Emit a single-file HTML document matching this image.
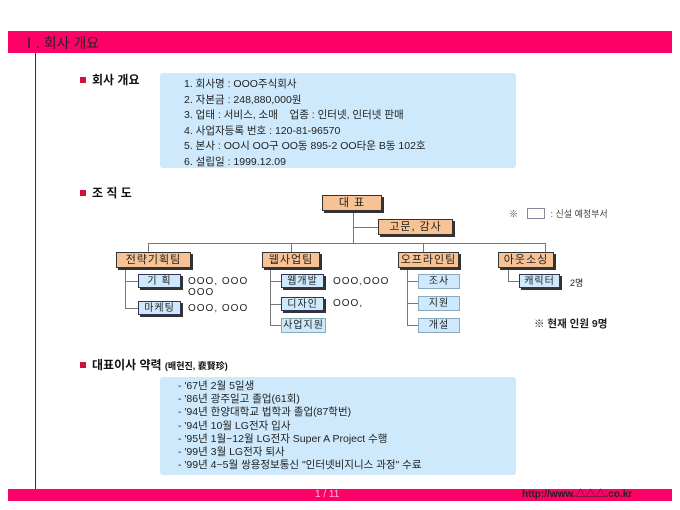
<!DOCTYPE html>
<html><head><meta charset="utf-8"><style>
*{margin:0;padding:0;box-sizing:border-box}
body{width:680px;height:510px;background:#fff;position:relative;overflow:hidden;font-family:"Liberation Sans","Noto Sans CJK KR","NanumGothic",sans-serif;color:#222}
.a{position:absolute}
.bar{background:#ff0066}
.h{font-size:12px;font-weight:bold;color:#111}
.sq{display:inline-block;width:6px;height:6px;background:#d0103a;margin-right:6px;vertical-align:1px}
.blue{background:#cde9fb;border-radius:3px}
.list{font-size:10.5px;line-height:15.5px;color:#222}
.ln{background:#777}
.org{background:#f8c394;border:1px solid #333;box-shadow:2px 2px 0 #333;font-size:11px;text-align:center;line-height:14px;letter-spacing:1px}
.sub{background:#cde9fb;border:1px solid #335;box-shadow:2px 2px 0 #333;font-size:10px;text-align:center;line-height:13px;letter-spacing:1px}
.new{background:#cde9fb;border:1px solid #8ab;font-size:10px;text-align:center;line-height:13px;letter-spacing:1px}
.t{font-size:10px;letter-spacing:1px}
</style></head><body>
<div class="a bar" style="left:8px;top:31px;width:664px;height:22px"></div>
<div class="a" style="left:22px;top:33px;font-size:14px;color:#222">Ⅰ. 회사 개요</div>
<div class="a" style="left:35px;top:53px;width:1px;height:437px;background:#333"></div>

<div class="a h" style="left:80px;top:71px"><span class="sq"></span>회사 개요</div>
<div class="a blue" style="left:160px;top:73px;width:356px;height:95px"></div>
<div class="a list" style="left:184px;top:77px">1. 회사명 : OOO주식회사<br>2. 자본금 : 248,880,000원<br>3. 업태 : 서비스, 소매 &nbsp;&nbsp;&nbsp;업종 : 인터넷, 인터넷 판매<br>4. 사업자등록 번호 : 120-81-96570<br>5. 본사 : OO시 OO구 OO동 895-2 OO타운 B동 102호<br>6. 설립일 : 1999.12.09</div>

<div class="a h" style="left:80px;top:184px"><span class="sq"></span>조 직 도</div>

<div class="a ln" style="left:353px;top:211px;width:1px;height:33px"></div>
<div class="a ln" style="left:353px;top:227px;width:25px;height:1px"></div>
<div class="a ln" style="left:148px;top:243px;width:398px;height:1px"></div>
<div class="a ln" style="left:148px;top:243px;width:1px;height:10px"></div>
<div class="a ln" style="left:291px;top:243px;width:1px;height:10px"></div>
<div class="a ln" style="left:423px;top:243px;width:1px;height:10px"></div>
<div class="a ln" style="left:545px;top:243px;width:1px;height:10px"></div>
<div class="a ln" style="left:125px;top:267px;width:1px;height:42px"></div>
<div class="a ln" style="left:125px;top:281px;width:13px;height:1px"></div>
<div class="a ln" style="left:125px;top:308px;width:13px;height:1px"></div>
<div class="a ln" style="left:270px;top:267px;width:1px;height:59px"></div>
<div class="a ln" style="left:270px;top:281px;width:11px;height:1px"></div>
<div class="a ln" style="left:270px;top:304px;width:11px;height:1px"></div>
<div class="a ln" style="left:270px;top:325px;width:11px;height:1px"></div>
<div class="a ln" style="left:407px;top:267px;width:1px;height:59px"></div>
<div class="a ln" style="left:407px;top:281px;width:11px;height:1px"></div>
<div class="a ln" style="left:407px;top:303px;width:11px;height:1px"></div>
<div class="a ln" style="left:407px;top:325px;width:11px;height:1px"></div>
<div class="a ln" style="left:508px;top:267px;width:1px;height:15px"></div>
<div class="a ln" style="left:508px;top:281px;width:11px;height:1px"></div>

<div class="a org" style="left:322px;top:195px;width:60px;height:16px">대 표</div>
<div class="a org" style="left:378px;top:219px;width:75px;height:16px">고문, 감사</div>
<div class="a org" style="left:116px;top:252px;width:75px;height:16px">전략기획팀</div>
<div class="a org" style="left:262px;top:252px;width:58px;height:16px">웹사업팀</div>
<div class="a org" style="left:398px;top:252px;width:61px;height:16px">오프라인팀</div>
<div class="a org" style="left:498px;top:252px;width:56px;height:16px">아웃소싱</div>

<div class="a sub" style="left:138px;top:274px;width:43px;height:14px">기 획</div>
<div class="a sub" style="left:138px;top:301px;width:43px;height:14px">마케팅</div>
<div class="a sub" style="left:281px;top:274px;width:43px;height:14px">웹개발</div>
<div class="a sub" style="left:281px;top:297px;width:43px;height:14px">디자인</div>
<div class="a new" style="left:281px;top:318px;width:45px;height:15px">사업지원</div>
<div class="a new" style="left:418px;top:274px;width:42px;height:15px">조사</div>
<div class="a new" style="left:418px;top:296px;width:42px;height:15px">지원</div>
<div class="a new" style="left:418px;top:318px;width:42px;height:15px">개설</div>
<div class="a sub" style="left:519px;top:274px;width:41px;height:14px">캐릭터</div>

<div class="a t" style="left:188px;top:276px">OOO, OOO<br>OOO</div>
<div class="a t" style="left:188px;top:303px">OOO, OOO</div>
<div class="a t" style="left:333px;top:276px">OOO,OOO</div>
<div class="a t" style="left:333px;top:298px">OOO,</div>
<div class="a" style="left:570px;top:276px;font-size:9px">2명</div>
<div class="a" style="left:509px;top:207px;font-size:9px;color:#444">※ <span style="display:inline-block;width:18px;height:11px;border:1px solid #889;vertical-align:-2px;margin:0 6px"></span>: 신설 예정부서</div>
<div class="a" style="left:534px;top:316px;font-size:10.5px;font-weight:bold">※ 현재 인원 9명</div>

<div class="a h" style="left:80px;top:356px"><span class="sq"></span>대표이사 약력 <span style="font-size:9px">(배현진, 裵賢珍)</span></div>
<div class="a blue" style="left:160px;top:377px;width:356px;height:98px"></div>
<div class="a list" style="left:178px;top:380px;line-height:13.2px;font-size:10.5px">- '67년 2월 5일생<br>- '86년 광주일고 졸업(61회)<br>- '94년 한양대학교 법학과 졸업(87학번)<br>- '94년 10월 LG전자 입사<br>- '95년 1월~12월 LG전자 Super A Project 수행<br>- '99년 3월 LG전자 퇴사<br>- '99년 4~5월 쌍용정보통신 "인터넷비지니스 과정" 수료</div>

<div class="a bar" style="left:8px;top:489px;width:664px;height:12px"></div>
<div class="a" style="left:315px;top:489px;font-size:10px;line-height:12px;color:#ffc0d8">1 / 11</div>
<div class="a" style="left:522px;top:489px;font-size:10px;line-height:12px;font-weight:bold;color:#222">http://www.△△△.co.kr</div>
</body></html>
